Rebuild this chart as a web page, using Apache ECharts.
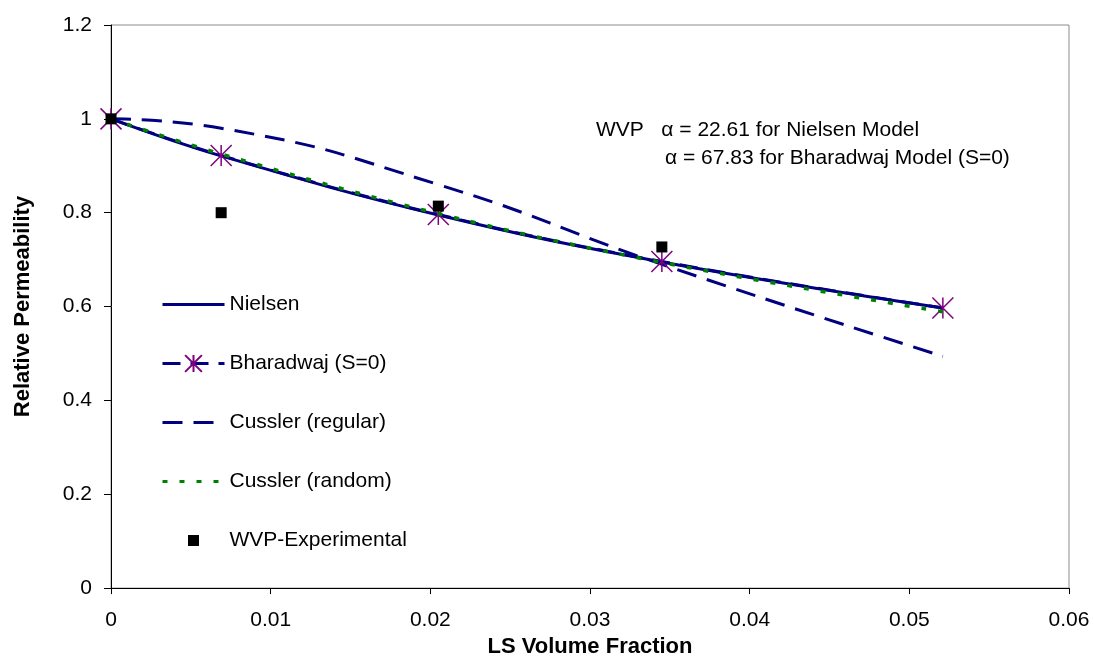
<!DOCTYPE html>
<html>
<head>
<meta charset="utf-8">
<script src="https://cdn.jsdelivr.net/npm/echarts@6/dist/echarts.min.js"></script>
<style>
  html, body { margin: 0; padding: 0; background: #fff; }
  #chart { width: 1094px; height: 663px; }
</style>
</head>
<body>
<div id="chart"></div>
<script>
// LS volume fraction at which the models were evaluated
const volFraction = [0, 0.0069, 0.0205, 0.0345, 0.0521]
// model curves (relative permeability)
const nielsen = [1.0, 0.921, 0.795, 0.695, 0.597]
const bharadwaj = [1.0, 0.922, 0.796, 0.696, 0.597]
const cusslerRegular = [1.0, 0.980, 0.860, 0.690, 0.494]
const cusslerRandom = [1.0, 0.925, 0.798, 0.694, 0.589]
// WVP experimental points
const expFraction = [0, 0.0069, 0.0205, 0.0345]
const expPerm = [1.0, 0.800, 0.814, 0.727]

const FONT = 'Liberation Sans, Arial, sans-serif'
const NAVY = '#000080'
// asterisk marker: vertical stroke + X
const STAR = 'path://M10,0L10,20M0,0L20,20M20,0L0,20'
// small square for the legend, padded so it stays ~11px inside the 21px box
const LEGEND_SQUARE = 'path://M0,0L0,0M21,21L21,21M5,5H16V16H5Z'

const pairs = (xs, ys) => xs.map((x, i) => [x, ys[i]])

const chart = echarts.init(document.getElementById('chart'))

// hide the default circle that echarts puts on line legend icons
const noSymbol = { opacity: 0 }

const option = {
  animation: false,
  backgroundColor: '#fff',
  grid: {
    left: 111,
    right: 25,
    top: 25,
    bottom: 73,
    show: true,
    borderColor: '#8c8c8c',
    borderWidth: 1
  },
  legend: {
    orient: 'vertical',
    left: 156,
    top: 289,
    itemWidth: 62,
    itemHeight: 21,
    itemGap: 38,
    lineStyle: { width: 3 },
    textStyle: { fontFamily: FONT, fontSize: 21, color: '#000', lineHeight: 21 },
    data: [
      { name: 'Nielsen', itemStyle: noSymbol },
      { name: 'Bharadwaj (S=0)' },
      { name: 'Cussler (regular)', itemStyle: noSymbol },
      { name: 'Cussler (random)', itemStyle: noSymbol },
      { name: 'WVP-Experimental', icon: LEGEND_SQUARE }
    ]
  },
  xAxis: {
    type: 'value',
    min: 0,
    max: 0.06,
    interval: 0.01,
    name: 'LS Volume Fraction',
    nameLocation: 'middle',
    nameGap: 46,
    nameTextStyle: { fontFamily: FONT, fontSize: 22, fontWeight: 'bold', color: '#000' },
    axisLine: { lineStyle: { color: '#000', width: 1 } },
    axisTick: { show: true, length: 6, lineStyle: { color: '#000' } },
    axisLabel: {
      fontFamily: FONT, fontSize: 21, color: '#000', margin: 22,
      formatter: (v) => String(+v.toFixed(2))
    },
    splitLine: { show: false }
  },
  yAxis: {
    type: 'value',
    min: 0,
    max: 1.2,
    interval: 0.2,
    name: 'Relative Permeability',
    nameLocation: 'middle',
    nameGap: 77,
    nameTextStyle: { fontFamily: FONT, fontSize: 22, fontWeight: 'bold', color: '#000' },
    axisLine: { show: true, lineStyle: { color: '#000', width: 1 } },
    axisTick: { show: true, length: 7, lineStyle: { color: '#000' } },
    axisLabel: {
      fontFamily: FONT, fontSize: 21, color: '#000', margin: 19,
      formatter: (v) => String(+v.toFixed(1))
    },
    splitLine: { show: false }
  },
  graphic: [
    {
      type: 'text',
      left: 596,
      top: 120,
      style: { text: 'WVP   α = 22.61 for Nielsen Model', fontFamily: FONT, fontSize: 21, fill: '#000' }
    },
    {
      type: 'text',
      left: 665,
      top: 148,
      style: { text: 'α = 67.83 for Bharadwaj Model (S=0)', fontFamily: FONT, fontSize: 21, fill: '#000' }
    }
  ],
  series: [
    {
      name: 'Nielsen',
      type: 'line',
      smooth: 0.4,
      symbol: 'none',
      lineStyle: { color: NAVY, width: 3 },
      itemStyle: { color: NAVY },
      z: 2,
      data: pairs(volFraction, nielsen)
    },
    {
      name: 'Bharadwaj (S=0)',
      type: 'line',
      smooth: 0.4,
      symbol: STAR,
      symbolSize: 21,
      lineStyle: { color: NAVY, width: 3, type: [18, 10] },
      itemStyle: { color: '#800080', borderColor: '#800080', borderWidth: 1.5 },
      z: 3,
      data: pairs(volFraction, bharadwaj)
    },
    {
      name: 'Cussler (regular)',
      type: 'line',
      smooth: 0.5,
      symbol: 'none',
      lineStyle: { color: NAVY, width: 3, type: [20, 11] },
      itemStyle: { color: NAVY },
      z: 2,
      data: pairs(volFraction, cusslerRegular)
    },
    {
      name: 'Cussler (random)',
      type: 'line',
      smooth: 0.4,
      symbol: 'none',
      lineStyle: { color: '#008000', width: 3.5, type: [5, 12] },
      itemStyle: { color: '#008000' },
      z: 4,
      data: pairs(volFraction, cusslerRandom)
    },
    {
      name: 'WVP-Experimental',
      type: 'scatter',
      symbol: 'rect',
      symbolSize: 11,
      itemStyle: { color: '#000', opacity: 1 },
      z: 5,
      data: pairs(expFraction, expPerm)
    }
  ]
}

chart.setOption(option)
</script>
</body>
</html>
